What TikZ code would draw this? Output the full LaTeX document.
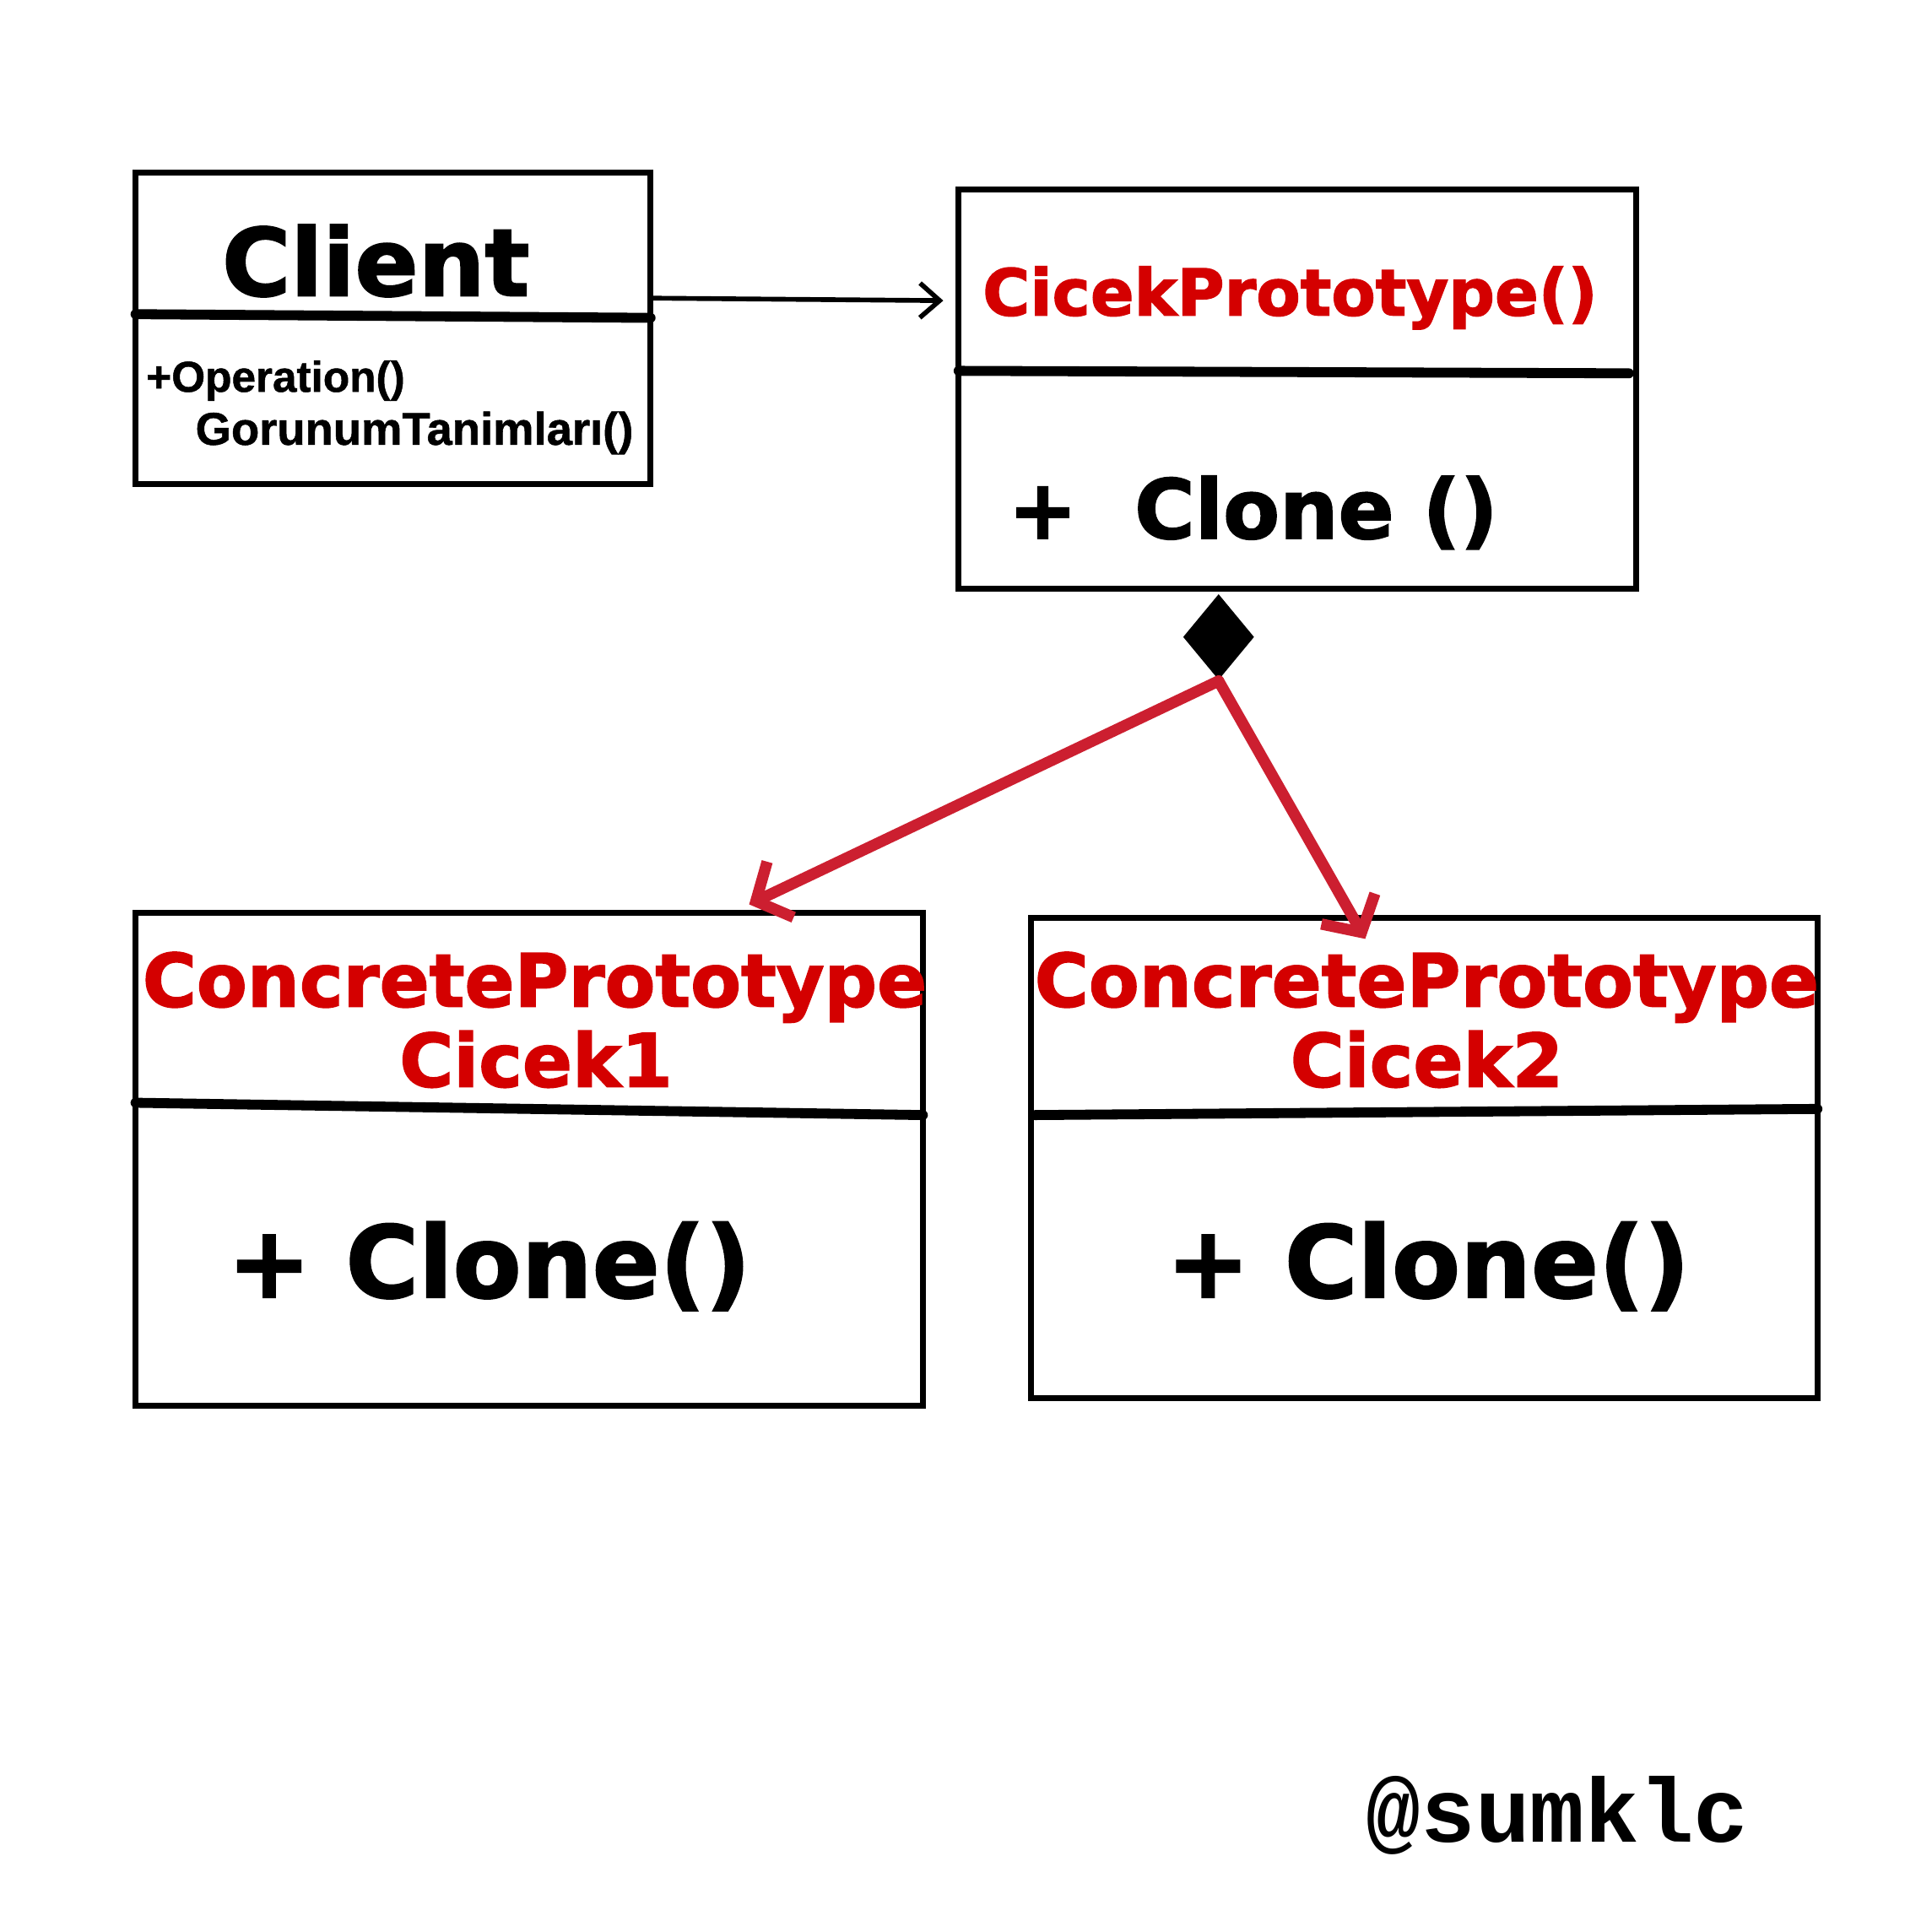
\documentclass[tikz,border=0pt]{standalone}
\usepackage{fontspec}
\usepackage{tikz}
\usetikzlibrary{arrows.meta}
\usetikzlibrary{shapes.geometric}
\newfontfamily\heavyfont{DejaVu Sans}[BoldFeatures={FakeBold=1.8}]
\newfontfamily\plainfont{Liberation Sans}[BoldFeatures={FakeBold=1}]
\newfontfamily\signfont{Liberation Mono}
\definecolor{titlered}{RGB}{212,0,0}
\definecolor{arrowred}{RGB}{204,31,48}
\tikzset{class_title/.style={font=\heavyfont\bfseries, text=titlered, anchor=base, inner sep=0},
	class_method/.style={font=\heavyfont\bfseries, anchor=base, inner sep=0},
	client_method/.style={font=\plainfont\bfseries\fontsize{10}{12}\selectfont, anchor=base west, inner sep=0}
}
\tikzstyle{class_box} = [draw, rectangle, line width=1.4pt, inner sep=0]
\tikzstyle{divider} = [line width=2.3pt, line cap=round]
\tikzstyle{child_arrow} = [draw=arrowred, line width=2.6pt, line cap=round, line join=round, -{Straight Barb[length=2.2mm,width=5mm]}]

\begin{document}
\begin{tikzpicture}
				\useasboundingbox (0,0) rectangle (15.68,15.68);
				% boxes
				\node[class_box, minimum width=4.18cm, minimum height=2.53cm](client) at (3.19,13.015) {};
				\node[class_box, minimum width=5.50cm, minimum height=3.24cm](proto) at (10.53,12.52) {};
				\node[class_box, minimum width=6.39cm, minimum height=4.00cm](cicek1) at (4.295,6.27) {};
				\node[class_box, minimum width=6.38cm, minimum height=3.90cm](cicek2) at (11.56,6.28) {};
				
				% dividers
				\draw[divider] (1.10,13.13) -- (5.28,13.10);
				\draw[divider] (7.78,12.67) -- (13.22,12.65);
				\draw[divider] (1.10,6.73) -- (7.49,6.63);
				\draw[divider] (8.40,6.63) -- (14.75,6.68);
				
				% texts
				\node[class_method, font=\heavyfont\bfseries\fontsize{21.6}{24}\selectfont](clientname) at (3.05,13.28) {Client};
				\node[client_method](op) at (1.18,12.50) {+Operation()};
				\node[client_method, font=\plainfont\bfseries\fontsize{10.6}{12}\selectfont](gorunum) at (1.58,12.07) {GorunumTanimları()};
				\node[class_title, font=\heavyfont\bfseries\fontsize{14.9}{17}\selectfont](protoname) at (10.47,13.12) {CicekPrototype()};
				\node[class_method, font=\heavyfont\bfseries\fontsize{19}{22}\selectfont](protoclone) at (10.17,11.31) {+\ \ Clone ()};
				\node[class_title, font=\heavyfont\bfseries\fontsize{17}{20}\selectfont](concrete1) at (4.34,7.51) {ConcretePrototype};
				\node[class_title, font=\heavyfont\bfseries\fontsize{17}{20}\selectfont](name1) at (4.35,6.86) {Cicek1};
				\node[class_title, font=\heavyfont\bfseries\fontsize{17}{20}\selectfont](concrete2) at (11.58,7.51) {ConcretePrototype};
				\node[class_title, font=\heavyfont\bfseries\fontsize{17}{20}\selectfont](name2) at (11.58,6.86) {Cicek2};
				\node[class_method, font=\heavyfont\bfseries\fontsize{23}{26}\selectfont](clone1) at (3.97,5.15) {+ Clone()};
				\node[class_method, font=\heavyfont\bfseries\fontsize{23}{26}\selectfont](clone2) at (11.59,5.15) {+ Clone()};
				\node[font=\signfont\bfseries\fontsize{21}{24}\selectfont, anchor=base, inner sep=0](sign) at (12.64,0.73) {@sumklc};
				
				% draw lines
				\node[diamond, fill=black, minimum width=0.58cm, minimum height=0.70cm, inner sep=0](comp) at (9.89,10.51) {};
				\coordinate (tip1) at (6.08,8.34);
				\coordinate (tip2) at (11.08,8.06);
				\draw[line width=1.1pt, line cap=round, -{Straight Barb[length=1.6mm,width=2.8mm]}] ([yshift=2.45mm]client.east) -- ([xshift=-1mm, yshift=7.2mm]proto.west);
				\draw[child_arrow] (comp.south) -- (tip1);
				\draw[child_arrow] (comp.south) -- (tip2);
			\end{tikzpicture}
\end{document}
